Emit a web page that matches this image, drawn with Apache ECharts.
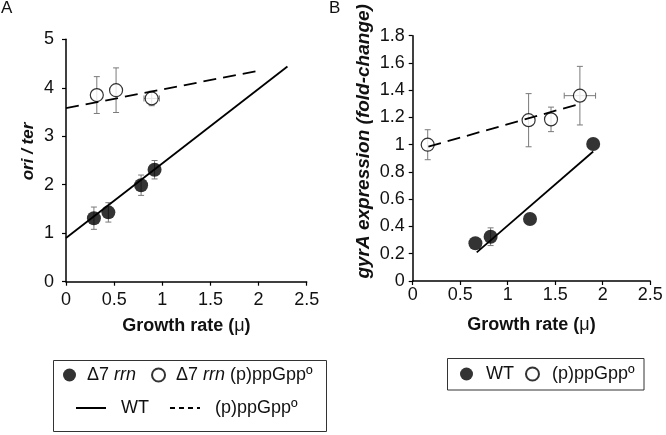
<!DOCTYPE html>
<html><head><meta charset="utf-8">
<script src="https://cdn.jsdelivr.net/npm/echarts@6/dist/echarts.min.js"></script>
<style>html,body{margin:0;padding:0;background:#fff}#c{width:666px;height:435px}</style>
</head><body><div id="c"></div>
<script>
// ---- Panel A data ----
const aFilledX = [0.29, 0.44, 0.78, 0.92];
const aFilledY = [1.31, 1.43, 1.99, 2.31];
const aFilledYErr = [0.23, 0.20, 0.21, 0.19];
const aOpenX = [0.32, 0.52, 0.89];
const aOpenY = [3.85, 3.95, 3.78];
const aOpenYErr = [0.38, 0.46, 0.15];
const aOpenXErr = [0, 0, 0.08];
const aWTLineX = [0, 2.3];
const aWTLineY = [0.9, 4.44];
const aPpLineX = [0, 1.97];
const aPpLineY = [3.58, 4.34];
// ---- Panel B data ----
const bFilledX = [0.66, 0.82, 1.235, 1.90];
const bFilledY = [0.277, 0.325, 0.455, 1.005];
const bFilledYErr = [0, 0.065, 0, 0];
const bOpenX = [0.158, 1.22, 1.456, 1.76];
const bOpenY = [1.0, 1.18, 1.186, 1.36];
const bOpenYErr = [0.11, 0.195, 0.09, 0.215];
const bOpenXErr = [0, 0, 0, 0.165];
const bWTLineX = [0.674, 1.90];
const bWTLineY = [0.21, 0.95];
const bPpLineX = [0.165, 1.76];
const bPpLineY = [0.986, 1.30];
// ---- Labels ----
const legendLabels = {
  aFilled: 'Δ7 {i|rrn}',
  aOpen: 'Δ7 {i|rrn} (p)ppGppº',
  aWT: 'WT',
  aPp: '(p)ppGppº',
  bFilled: 'WT',
  bOpen: '(p)ppGppº'
};
const xName = 'Growth rate ({m|μ})';
const yNameA = 'ori / ter';
const yNameB = 'gyrA expression (fold-change)';

const FONT = "'Liberation Sans', Arial, sans-serif";
const zip = (...arrs) => arrs[0].map((_, i) => arrs.map(a => a[i]));

function errRender(params, api) {
  const x = api.value(0), y = api.value(1), xe = api.value(2), ye = api.value(3);
  const c = api.coord([x, y]);
  const st = { stroke: '#7a7a7a', lineWidth: 1 };
  const cap = 3;
  const ch = [];
  if (ye > 0) {
    const t = api.coord([x, y + ye]), b = api.coord([x, y - ye]);
    ch.push({ type: 'line', shape: { x1: c[0], y1: t[1], x2: c[0], y2: b[1] }, style: st });
    ch.push({ type: 'line', shape: { x1: c[0] - cap, y1: t[1], x2: c[0] + cap, y2: t[1] }, style: st });
    ch.push({ type: 'line', shape: { x1: c[0] - cap, y1: b[1], x2: c[0] + cap, y2: b[1] }, style: st });
  }
  if (xe > 0) {
    const l = api.coord([x - xe, y]), r = api.coord([x + xe, y]);
    ch.push({ type: 'line', shape: { x1: l[0], y1: c[1], x2: r[0], y2: c[1] }, style: st });
    ch.push({ type: 'line', shape: { x1: l[0], y1: c[1] - cap, x2: l[0], y2: c[1] + cap }, style: st });
    ch.push({ type: 'line', shape: { x1: r[0], y1: c[1] - cap, x2: r[0], y2: c[1] + cap }, style: st });
  }
  return { type: 'group', children: ch };
}

function axisX(gi, labelMargin) {
  return {
    type: 'value', gridIndex: gi, min: 0, max: 2.5, interval: 0.5,
    name: xName, nameLocation: 'middle', nameGap: 35,
    nameTextStyle: { fontSize: 18, fontWeight: 'bold', color: '#111', fontFamily: FONT,
      rich: { m: { fontSize: 18, fontWeight: 'normal', color: '#111', fontFamily: FONT } } },
    axisLine: { show: true, onZero: false, lineStyle: { color: '#000', width: 1.5 } },
    axisTick: { show: true, length: 4, lineStyle: { color: '#000', width: 1.2 } },
    axisLabel: { fontSize: 18, color: '#111', fontFamily: FONT, margin: labelMargin },
    splitLine: { show: false }
  };
}
function axisY(gi, max, interval, name, size, gap, labelMargin, shift) {
  return {
    type: 'value', gridIndex: gi, min: 0, max: max, interval: interval,
    name: name, nameLocation: 'middle', nameGap: gap,
    nameTextStyle: { fontSize: size, fontWeight: 'bold', fontStyle: 'italic', color: '#111', fontFamily: FONT,
      padding: [0, 0, 0, shift] },
    axisLine: { show: true, onZero: false, lineStyle: { color: '#000', width: 1.5 } },
    axisTick: { show: true, length: 4, lineStyle: { color: '#000', width: 1.2 } },
    axisLabel: { fontSize: 18, color: '#111', fontFamily: FONT, margin: labelMargin },
    splitLine: { show: false }
  };
}

const filledStyle = { color: '#000' };
const openStyle = { color: '#fff', borderColor: '#000', borderWidth: 1.2 };
const legendText = (pad) => ({
  fontSize: 18, color: '#111', fontFamily: FONT, lineHeight: 18, padding: [0, 0, 0, pad],
  rich: { i: { fontSize: 18, fontStyle: 'italic', color: '#111', fontFamily: FONT, lineHeight: 18 } }
});
const fmt = n => legendLabels[n];

const option = {
  animation: false,
  backgroundColor: '#fff',
  title: [
    { text: 'A', left: 1, top: 0, padding: 0, textStyle: { fontSize: 17, fontWeight: 'normal', color: '#111', fontFamily: FONT } },
    { text: 'B', left: 329, top: 0, padding: 0, textStyle: { fontSize: 17, fontWeight: 'normal', color: '#111', fontFamily: FONT } }
  ],
  grid: [
    { left: 66, top: 39.3, width: 240.7, height: 242.4, outerBoundsMode: 'none', containLabel: false },
    { left: 412.7, top: 35.7, width: 237.5, height: 245.3, outerBoundsMode: 'none', containLabel: false }
  ],
  xAxis: [axisX(0, 9), axisX(1, 5)],
  yAxis: [axisY(0, 5, 1, yNameA, 17, 29, 12, 18), axisY(1, 1.8, 0.2, yNameB, 19, 39, 8, 34)],
  legend: [
    { left: 63, top: 366, padding: 0, itemGap: 15, itemWidth: 13, itemHeight: 13, selectedMode: false,
      data: ['aFilled', 'aOpen'], formatter: fmt, textStyle: legendText(6) },
    { left: 75, top: 399, padding: 0, itemGap: 20, itemWidth: 30, itemHeight: 14, selectedMode: false,
      data: [
        { name: 'aWT', itemStyle: { opacity: 0 } },
        { name: 'aPp', itemStyle: { opacity: 0 }, lineStyle: { type: [5, 4] } }
      ], formatter: fmt, textStyle: legendText(10) },
    { left: 460, top: 365, padding: 0, itemGap: 11, itemWidth: 13, itemHeight: 13, selectedMode: false,
      data: ['bFilled', 'bOpen'], formatter: fmt, textStyle: legendText(8) }
  ],
  graphic: [
    { type: 'rect', shape: { x: 53.5, y: 360.5, width: 273, height: 71 }, style: { fill: 'none', stroke: '#333', lineWidth: 1 }, silent: true },
    { type: 'rect', shape: { x: 447.5, y: 358.5, width: 196.5, height: 31.5 }, style: { fill: 'none', stroke: '#333', lineWidth: 1 }, silent: true }
  ],
  series: [
    { type: 'custom', name: 'errA1', xAxisIndex: 0, yAxisIndex: 0, renderItem: errRender, z: 1, silent: true,
      data: zip(aFilledX, aFilledY, aFilledX.map(() => 0), aFilledYErr), encode: { x: 0, y: 1 } },
    { type: 'custom', name: 'errA2', xAxisIndex: 0, yAxisIndex: 0, renderItem: errRender, z: 1, silent: true,
      data: zip(aOpenX, aOpenY, aOpenXErr, aOpenYErr), encode: { x: 0, y: 1 } },
    { type: 'custom', name: 'errB1', xAxisIndex: 1, yAxisIndex: 1, renderItem: errRender, z: 1, silent: true,
      data: zip(bFilledX, bFilledY, bFilledX.map(() => 0), bFilledYErr), encode: { x: 0, y: 1 } },
    { type: 'custom', name: 'errB2', xAxisIndex: 1, yAxisIndex: 1, renderItem: errRender, z: 1, silent: true,
      data: zip(bOpenX, bOpenY, bOpenXErr, bOpenYErr), encode: { x: 0, y: 1 } },
    { type: 'scatter', name: 'aFilled', xAxisIndex: 0, yAxisIndex: 0, symbol: 'circle', symbolSize: 14, z: 2,
      itemStyle: filledStyle, data: zip(aFilledX, aFilledY), silent: true },
    { type: 'scatter', name: 'aOpen', xAxisIndex: 0, yAxisIndex: 0, symbol: 'circle', symbolSize: 13, z: 2,
      itemStyle: openStyle, data: zip(aOpenX, aOpenY), silent: true },
    { type: 'scatter', name: 'bFilled', xAxisIndex: 1, yAxisIndex: 1, symbol: 'circle', symbolSize: 14, z: 2,
      itemStyle: filledStyle, data: zip(bFilledX, bFilledY), silent: true },
    { type: 'scatter', name: 'bOpen', xAxisIndex: 1, yAxisIndex: 1, symbol: 'circle', symbolSize: 13, z: 2,
      itemStyle: openStyle, data: zip(bOpenX, bOpenY), silent: true },
    { type: 'line', name: 'aWT', xAxisIndex: 0, yAxisIndex: 0, symbol: 'none', z: 3, silent: true,
      itemStyle: { color: '#000' }, lineStyle: { color: '#000', width: 1.8 }, data: zip(aWTLineX, aWTLineY) },
    { type: 'line', name: 'aPp', xAxisIndex: 0, yAxisIndex: 0, symbol: 'none', z: 3, silent: true,
      itemStyle: { color: '#000' }, lineStyle: { color: '#000', width: 1.8, type: [13, 7] }, data: zip(aPpLineX, aPpLineY) },
    { type: 'line', name: 'bWT', xAxisIndex: 1, yAxisIndex: 1, symbol: 'none', z: 3, silent: true,
      itemStyle: { color: '#000' }, lineStyle: { color: '#000', width: 1.8 }, data: zip(bWTLineX, bWTLineY) },
    { type: 'line', name: 'bPp', xAxisIndex: 1, yAxisIndex: 1, symbol: 'none', z: 3, silent: true,
      itemStyle: { color: '#000' }, lineStyle: { color: '#000', width: 1.8, type: [13, 7] }, data: zip(bPpLineX, bPpLineY) }
  ]
};
const chart = echarts.init(document.getElementById('c'), null, { renderer: 'canvas' });
chart.setOption(option);
</script>
</body></html>
